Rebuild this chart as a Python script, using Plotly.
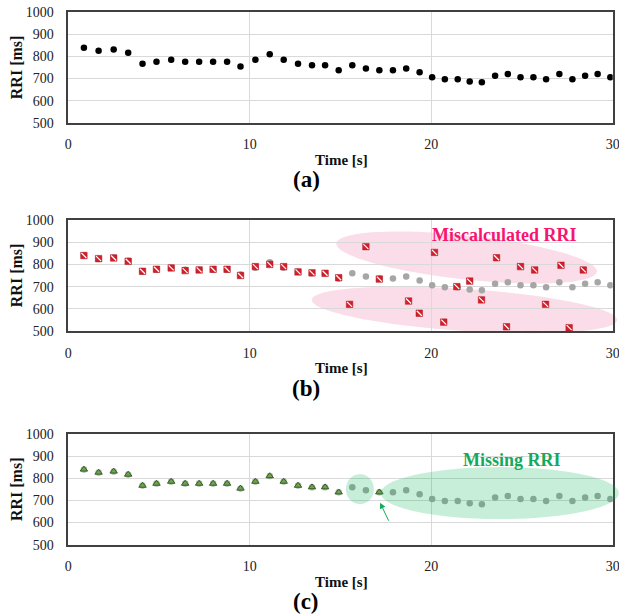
import numpy as np
import plotly.graph_objects as go

W, H = 619, 616

# ---------------- data ----------------
# (a) true RRI series: beat time [s] and RRI [ms]
t_orig = [0.86, 1.67, 2.50, 3.30, 4.09, 4.86, 5.67, 6.44, 7.21, 7.98,
          8.75, 9.49, 10.31, 11.10, 11.87, 12.66, 13.43, 14.15, 14.90, 15.65,
          16.40, 17.14, 17.89, 18.62, 19.36, 20.05, 20.75, 21.46, 22.12, 22.79,
          23.52, 24.22, 24.92, 25.63, 26.33, 27.06, 27.78, 28.48, 29.17, 29.87]
rri_orig = [840, 826, 831, 817, 767, 776, 785, 776, 776, 776,
            776, 754, 785, 810, 785, 767, 760, 760, 737, 760,
            746, 737, 737, 746, 728, 706, 697, 697, 687, 683,
            713, 720, 706, 706, 697, 720, 697, 713, 720, 706]

# (b) miscalculated RRI series
t_mis = [0.86, 1.67, 2.50, 3.30, 4.09, 4.86, 5.67, 6.44, 7.21, 7.98,
         8.75, 9.49, 10.31, 11.10, 11.87, 12.66, 13.43, 14.15, 14.90, 15.50,
         16.40, 17.14, 18.75, 19.34, 20.18, 20.69, 21.41, 22.12, 22.77, 23.60,
         24.15, 24.92, 25.70, 26.30, 27.15, 27.60, 28.38]
rri_mis = [840, 826, 829, 814, 769, 778, 784, 772, 775, 778,
           778, 750, 790, 800, 790, 766, 762, 760, 740, 620,
           880, 734, 635, 580, 854, 540, 700, 725, 640, 830,
           519, 790, 775, 620, 796, 515, 775]

# (c) detected RRI series (with missing beats)
t_det = [0.86, 1.67, 2.50, 3.30, 4.09, 4.86, 5.67, 6.44, 7.21, 7.98,
         8.75, 9.49, 10.31, 11.10, 11.87, 12.66, 13.43, 14.15, 14.90, 17.14]
rri_det = [840, 826, 831, 817, 767, 776, 785, 776, 776, 776,
           776, 754, 785, 810, 785, 767, 760, 760, 737, 737]

x_ticks = [0, 10, 20, 30]
y_ticks = [500, 600, 700, 800, 900, 1000]

# ---------------- layout geometry ----------------
XL, XR = 68.3, 612.7
PANELS = [(12.3, 122.7), (220.0, 331.0), (434.0, 544.7)]
FONT = "Liberation Serif"


def to_px(t, v, p):
    top, bot = PANELS[p]
    return XL + t / 30 * (XR - XL), bot - (v - 500) / 500 * (bot - top)


def ellipse_path(p, tc, vc, a, b, ang, n=90):
    cx, cy = to_px(tc, vc, p)
    th = np.linspace(0, 2 * np.pi, n)
    phi = np.radians(ang)
    xs = cx + a * np.cos(th) * np.cos(phi) - b * np.sin(th) * np.sin(phi)
    ys = cy + a * np.cos(th) * np.sin(phi) + b * np.sin(th) * np.cos(phi)
    pts = [f"{x / W:.5f},{1 - y / H:.5f}" for x, y in zip(xs, ys)]
    return "M " + " L ".join(pts) + " Z"


fig = go.Figure()

# (a)
fig.add_trace(go.Scatter(x=t_orig, y=rri_orig, mode="markers", xaxis="x", yaxis="y",
                         marker=dict(color="#000000", size=6.5), showlegend=False))
# (b)
fig.add_trace(go.Scatter(x=t_orig, y=rri_orig, mode="markers", xaxis="x2", yaxis="y2",
                         marker=dict(color="#A6A6A6", size=6.5), showlegend=False))
fig.add_trace(go.Scatter(x=t_mis, y=rri_mis, mode="markers", xaxis="x2", yaxis="y2",
                         marker=dict(color="#D21F2B", size=6.5, symbol="square",
                                     line=dict(color="#B0121C", width=0.5)),
                         showlegend=False))
fig.add_trace(go.Scatter(x=t_mis, y=rri_mis, mode="markers", xaxis="x2", yaxis="y2",
                         marker=dict(color="#FFFFFF", size=5, symbol="line-nw",
                                     line=dict(color="#FFFFFF", width=1.2)),
                         showlegend=False, hoverinfo="skip"))
# (c)
fig.add_trace(go.Scatter(x=t_orig, y=rri_orig, mode="markers", xaxis="x3", yaxis="y3",
                         marker=dict(color="#A6A6A6", size=6.5), showlegend=False))
fig.add_trace(go.Scatter(x=t_det, y=rri_det, mode="markers", xaxis="x3", yaxis="y3",
                         marker=dict(color="#6AA84F", size=6.5, symbol="triangle-up",
                                     line=dict(color="#375E1F", width=1)),
                         showlegend=False))

axis_common = dict(showgrid=True, gridcolor="#D9D9D9", gridwidth=1,
                   showline=True, mirror=True, linecolor="#404040", linewidth=1.5,
                   zeroline=False, ticks="", automargin=False,
                   ticklabeloverflow="allow",
                   tickfont=dict(family=FONT, size=14, color="#222222"))

layout = dict(width=W, height=H, margin=dict(l=0, r=0, t=0, b=0),
              paper_bgcolor="white", plot_bgcolor="rgba(0,0,0,0)",
              showlegend=False)

for i, (top, bot) in enumerate(PANELS):
    sx = "" if i == 0 else str(i + 1)
    layout["xaxis" + sx] = dict(axis_common, domain=[XL / W, XR / W], range=[0, 30],
                                tickvals=x_ticks, anchor="y" + sx, ticklabelstandoff=8)
    layout["yaxis" + sx] = dict(axis_common, domain=[1 - bot / H, 1 - top / H],
                                range=[500, 1000], tickvals=y_ticks, anchor="x" + sx,
                                ticklabelstandoff=10)

fig.update_layout(**layout)

# ---------------- highlight ellipses ----------------
shapes = [
    dict(type="path", xref="paper", yref="paper", layer="below",
         path=ellipse_path(1, 21.95, 831, 131, 22, 6.2),
         fillcolor="#FADDE8", line=dict(width=0)),
    dict(type="path", xref="paper", yref="paper", layer="below",
         path=ellipse_path(1, 21.83, 595, 153, 21, 3.8),
         fillcolor="#FADDE8", line=dict(width=0)),
    dict(type="path", xref="paper", yref="paper", layer="above",
         path=ellipse_path(2, 16.07, 751, 14, 15, 0),
         fillcolor="rgba(0,176,80,0.22)", line=dict(width=0)),
    dict(type="path", xref="paper", yref="paper", layer="above",
         path=ellipse_path(2, 23.78, 733, 119, 26, 0),
         fillcolor="rgba(0,176,80,0.22)", line=dict(width=0)),
]
fig.update_layout(shapes=shapes)

# ---------------- text ----------------
ann = []
for i, (top, bot) in enumerate(PANELS):
    ann.append(dict(text="<b>RRI [ms]</b>", textangle=-90, xref="paper", yref="paper",
                    x=16.7 / W, y=1 - (top + bot) / 2 / H, showarrow=False,
                    xanchor="center", yanchor="middle",
                    font=dict(family=FONT, size=16, color="#111111")))
for yy in [160, 368.3, 581.7]:
    ann.append(dict(text="<b>Time [s]</b>", xref="paper", yref="paper",
                    x=341.5 / W, y=1 - yy / H, showarrow=False,
                    xanchor="center", yanchor="middle",
                    font=dict(family=FONT, size=15, color="#111111")))
for lab, yy in zip(["(a)", "(b)", "(c)"], [180, 388.3, 601]):
    ann.append(dict(text=f"<b>{lab}</b>", xref="paper", yref="paper",
                    x=306 / W, y=1 - yy / H, showarrow=False,
                    xanchor="center", yanchor="middle",
                    font=dict(family=FONT, size=23, color="#000000")))
ann.append(dict(text="<b>Miscalculated RRI</b>", xref="paper", yref="paper",
                x=503.8 / W, y=1 - 235 / H, showarrow=False,
                xanchor="center", yanchor="middle",
                font=dict(family=FONT, size=18, color="#F7156F")))
ann.append(dict(text="<b>Missing RRI</b>", xref="paper", yref="paper",
                x=511.7 / W, y=1 - 459.5 / H, showarrow=False,
                xanchor="center", yanchor="middle",
                font=dict(family=FONT, size=18, color="#14A95B")))
ann.append(dict(text="", x=17.18, y=690, xref="x3", yref="y3",
                ax=9.3, ay=19.6, showarrow=True, arrowhead=2, arrowsize=1.2,
                arrowwidth=1, arrowcolor="#14A95B"))
fig.update_layout(annotations=ann)

fig.write_html("out.html")
